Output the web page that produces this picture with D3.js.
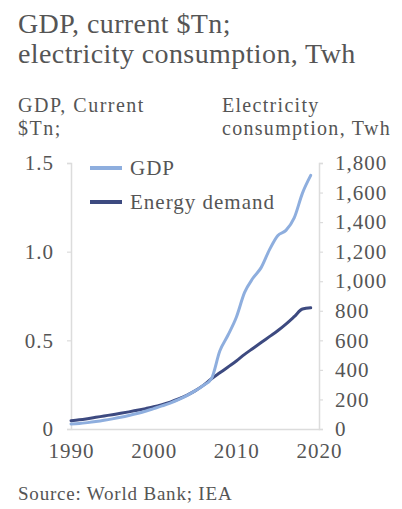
<!DOCTYPE html>
<html>
<head>
<meta charset="utf-8">
<script src="https://cdn.jsdelivr.net/npm/d3@7"></script>
<style>
  html, body { margin: 0; padding: 0; background: #fff; }
  svg { display: block; }
  text { font-family: "Liberation Serif", "DejaVu Serif", serif; fill: #555; }
</style>
</head>
<body>
<svg id="chart" width="402" height="509"></svg>
<script>
// Annual series, 1990-2019
const years = d3.range(1990, 2020);
const gdp = [0.028, 0.031, 0.036, 0.042, 0.049, 0.057, 0.066, 0.076, 0.087, 0.100,
             0.115, 0.130, 0.146, 0.165, 0.188, 0.215, 0.245, 0.285, 0.440, 0.530,
             0.630, 0.770, 0.850, 0.910, 1.010, 1.090, 1.120, 1.190, 1.330, 1.430];
const energy = [56, 62, 70, 79, 88, 97, 106, 116, 127, 138,
                150, 165, 182, 203, 228, 258, 295, 340, 380, 420,
                460, 505, 545, 585, 625, 665, 710, 760, 812, 820];
const leftTicks = [0, 0.5, 1.0, 1.5];
const leftTickLabels = ["0", "0.5", "1.0", "1.5"];
const rightTicks = [0, 200, 400, 600, 800, 1000, 1200, 1400, 1600, 1800];
const xTicks = [1990, 2000, 2010, 2020];
const seriesNames = ["GDP", "Energy demand"];
const colors = ["#8eaede", "#3d4a80"];

const svg = d3.select("#chart");
const plot = { left: 71, right: 319, top: 163, bottom: 429 };

const x = d3.scaleLinear().domain([1990, 2020]).range([plot.left, plot.right]);
const yL = d3.scaleLinear().domain([0, 1.5]).range([plot.bottom, plot.top]);
const yR = d3.scaleLinear().domain([0, 1800]).range([plot.bottom, plot.top]);

function label(xp, yp, size, spacing, str) {
  return svg.append("text").attr("x", xp).attr("y", yp)
    .style("font-size", size + "px").style("letter-spacing", spacing + "px").text(str);
}

// Titles
label(18, 33, 28, 0.4, "GDP, current $Tn;");
label(18, 63, 28, 0.4, "electricity consumption, Twh");
label(18, 112, 20, 1.5, "GDP, Current");
label(18, 135, 20, 1.5, "$Tn;");
label(222, 112, 20, 1.3, "Electricity");
label(222, 135, 20, 1.3, "consumption, Twh");

const axisColor = "#dcdcdc";

// Left axis
const gL = svg.append("g").attr("transform", `translate(${plot.left},0)`)
  .call(d3.axisLeft(yL).tickValues(leftTicks).tickFormat((d, i) => leftTickLabels[i]).tickSize(4).tickPadding(13));
// Right axis
const gR = svg.append("g").attr("transform", `translate(${plot.right},0)`)
  .call(d3.axisRight(yR).tickValues(rightTicks).tickFormat(d3.format(",")).tickSize(4).tickPadding(12));
// Bottom axis
const gB = svg.append("g").attr("transform", `translate(0,${plot.bottom})`)
  .call(d3.axisBottom(x).tickValues(xTicks).tickFormat(d3.format("d")).tickSize(0).tickPadding(14));

[gL, gR, gB].forEach(g => {
  g.select(".domain").attr("stroke", axisColor).attr("stroke-width", 1.5);
  g.selectAll(".tick line").attr("stroke", axisColor).attr("stroke-width", 1.2);
  g.selectAll(".tick text").style("font-size", "21px").style("letter-spacing", "1px")
    .attr("fill", "#555").style("font-family", "'Liberation Serif', serif");
});
gB.selectAll(".tick text").attr("dy", "0.71em");

// Series lines
const lineL = d3.line().x((d, i) => x(years[i])).y(d => yL(d)).curve(d3.curveMonotoneX);
const lineR = d3.line().x((d, i) => x(years[i])).y(d => yR(d)).curve(d3.curveMonotoneX);

svg.append("path").datum(energy).attr("d", lineR)
  .attr("fill", "none").attr("stroke", colors[1]).attr("stroke-width", 3).attr("stroke-linecap", "round");
svg.append("path").datum(gdp).attr("d", lineL)
  .attr("fill", "none").attr("stroke", colors[0]).attr("stroke-width", 3).attr("stroke-linecap", "round");

// Legend
seriesNames.forEach((name, i) => {
  const ly = 168 + i * 34;
  svg.append("line").attr("x1", 90).attr("x2", 122).attr("y1", ly).attr("y2", ly)
    .attr("stroke", colors[i]).attr("stroke-width", 4);
  label(130, ly + 7, 21, 1.0, name);
});

// Source note
label(18, 500, 19, 0.8, "Source: World Bank; IEA");
</script>
</body>
</html>
